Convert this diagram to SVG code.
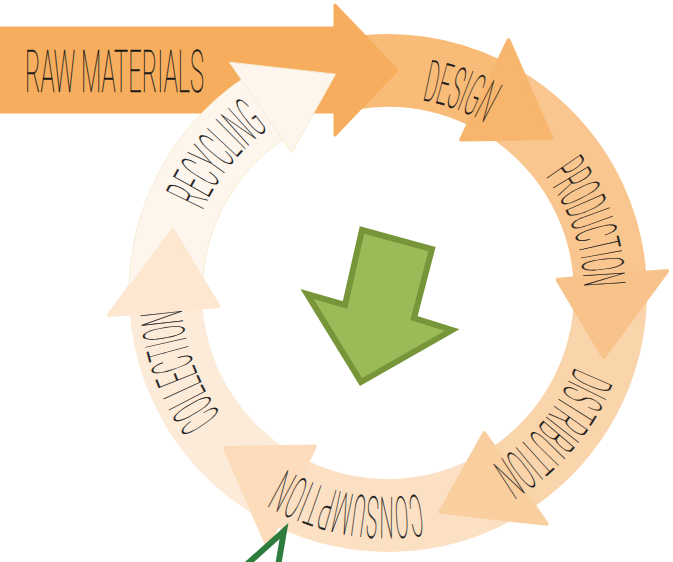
<svg xmlns="http://www.w3.org/2000/svg" xmlns:xlink="http://www.w3.org/1999/xlink" width="673" height="562" viewBox="0 0 673 562">
  <style>
    .lbl { font-family: Roboto, "Liberation Sans", sans-serif; font-size: 58px; font-weight: 100; fill: #1a1a1a; stroke: #1a1a1a; stroke-width: 0.4; }
    .head { stroke-width: 4; stroke-linejoin: round; }
    #design .band { fill: #f8bb78; }
    #design .head { fill: #f7b56d; stroke: #f7b56d; }
    #production .band { fill: #f9c68f; }
    #production .head { fill: #f8c38a; stroke: #f8c38a; }
    #distribution .band { fill: #fad4aa; }
    #distribution .head { fill: #f9cfa0; stroke: #f9cfa0; }
    #consumption .band { fill: #fce0c3; }
    #consumption .head { fill: #fcdcba; stroke: #fcdcba; }
    #collection .band { fill: #fdebd9; }
    #collection .head { fill: #fde7d0; stroke: #fde7d0; }
    #recycling .band, #recycling .head { fill: #fef6ed; stroke: #f6ecd2; stroke-width: 1; }
    #raw-materials .shape { fill: #f6ae5e; stroke: #f6ae5e; stroke-width: 3; stroke-linejoin: round; }
  </style>
  <defs>
    <!-- baselines for the ring labels, all running clockwise -->
    <path id="arc-design" d="M422.0 100.0 A196 196 0 0 1 514.0 142.9"/>
    <path id="arc-production" d="M545.6 176.4 A196 196 0 0 1 581.0 327.0"/>
    <path id="arc-distribution" d="M574.9 367.0 A201 201 0 0 1 456.7 481.9"/>
    <path id="arc-consumption" d="M419.9 494.5 A204 204 0 0 1 256.9 449.3"/>
    <path id="arc-collection" d="M220.5 414.7 A207 207 0 0 1 181.8 275.0"/>
    <path id="arc-recycling" d="M202.5 210.4 A203 203 0 0 1 302.2 109.0"/>
    <!-- keeps the recycling band from covering the collection arrowhead -->
    <clipPath id="notch">
      <path clip-rule="evenodd" d="M0 0H673V562H0Z M106.9 316.0 L173.3 226.1 L220.5 307.3 Z"/>
    </clipPath>
  </defs>

  <g id="collection">
    <path class="band" d="M258.5 517.3 A259 259 0 0 1 129.6 311.1 L202.5 306.0 A186 186 0 0 0 295.0 454.1 Z"/>
    <path class="head" d="M108.9 315.0 L172.3 229.1 L218.5 306.3 Z"/>
    <text class="lbl"><textPath xlink:href="#arc-collection" textLength="114" lengthAdjust="spacingAndGlyphs">COLLECTION</textPath></text>
  </g>

  <g id="consumption">
    <path class="band" d="M517.5 517.3 A259 259 0 0 1 274.5 525.8 L306.5 460.2 A186 186 0 0 0 481.0 454.1 Z"/>
    <path class="head" d="M267.5 545.7 L224.8 447.9 L314.8 446.4 Z"/>
    <text class="lbl"><textPath xlink:href="#arc-consumption" textLength="139" lengthAdjust="spacingAndGlyphs">CONSUMPTION</textPath></text>
  </g>

  <g id="distribution">
    <path class="band" d="M647 293 A259 259 0 0 1 532.8 507.7 L492.0 447.2 A186 186 0 0 0 574 293 Z"/>
    <path class="head" d="M546.6 523.8 L440.5 511.8 L484.3 433.1 Z"/>
    <text class="lbl"><textPath xlink:href="#arc-distribution" textLength="131" lengthAdjust="spacingAndGlyphs">DISTRIBUTION</textPath></text>
  </g>

  <g id="production">
    <path class="band" d="M517.5 68.7 A259 259 0 0 1 646.4 274.9 L573.5 280.0 A186 186 0 0 0 481.0 131.9 Z"/>
    <path class="head" d="M667.1 271.0 L603.7 356.9 L557.5 279.7 Z"/>
    <text class="lbl"><textPath xlink:href="#arc-production" textLength="119" lengthAdjust="spacingAndGlyphs">PRODUCTION</textPath></text>
  </g>

  <g id="design">
    <path class="band" d="M343.0 37.9 A259 259 0 0 1 501.5 60.2 L469.5 125.8 A186 186 0 0 0 355.7 109.8 Z"/>
    <path class="head" d="M508.5 40.3 L551.2 138.1 L461.2 139.6 Z"/>
    <text class="lbl"><textPath xlink:href="#arc-design" textLength="67" lengthAdjust="spacingAndGlyphs">DESIGN</textPath></text>
  </g>

  <g id="raw-materials">
    <path class="shape" d="M0 28 H335 V5 L397 70 L335 135 V112 H0 Z"/>
    <text class="lbl" x="25" y="92" textLength="179" lengthAdjust="spacingAndGlyphs" style="font-size:60px">RAW MATERIALS</text>
  </g>

  <g id="recycling">
    <path class="band" clip-path="url(#notch)" d="M129 293 A259 259 0 0 1 243.2 78.3 L284.0 138.8 A186 186 0 0 0 202 293 Z"/>
    <path class="head" d="M229.4 62.2 L335.5 74.2 L291.7 152.9 Z"/>
    <text class="lbl"><textPath xlink:href="#arc-recycling" textLength="106" lengthAdjust="spacingAndGlyphs">RECYCLING</textPath></text>
  </g>

  <g id="connectors">
    <!-- green downward arrow in the middle of the ring -->
    <path d="M362 230 L432 249 L414 318 L452 330 L361 382 L307 294 L345 305 Z" fill="#9bbb59" stroke="#77963a" stroke-width="6" stroke-linejoin="miter"/>
    <!-- tip of the outlined arrow entering from below -->
    <path d="M245 566 L284 531 L278 566" fill="none" stroke="#2e7d3e" stroke-width="6" stroke-linejoin="miter"/>
  </g>
</svg>
